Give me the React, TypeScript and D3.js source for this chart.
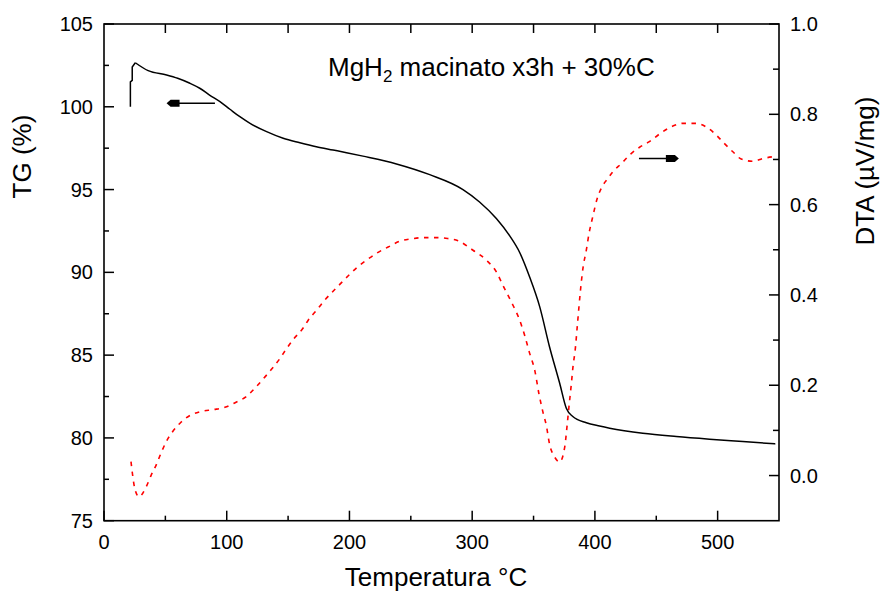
import React from "react";
import * as d3 from "d3";

const tgTemp = [21.5, 21.5, 23, 23, 25.5, 36, 51, 60, 70, 78, 86, 94.5, 102.6, 110.7, 119, 132.5, 146, 159.6, 173, 186.7, 197.6, 211, 238.3, 265.4, 292.5, 306, 319.7, 330.6, 338.7, 346.9, 355, 363, 371.3, 376.7, 382, 393, 403.8, 412, 439, 466.3, 493.4, 520.5, 547];
const tgValue = [100.0, 101.5, 101.6, 102.4, 102.66, 102.18, 101.92, 101.72, 101.42, 101.12, 100.71, 100.31, 99.85, 99.4, 99.0, 98.5, 98.1, 97.83, 97.59, 97.39, 97.23, 97.02, 96.55, 95.9, 95.0, 94.25, 93.25, 92.2, 91.2, 89.7, 87.93, 85.51, 83.3, 81.79, 81.29, 80.92, 80.72, 80.59, 80.28, 80.08, 79.92, 79.78, 79.64];

const dtaTemp = [22, 25.2, 28.5, 34.2, 38.3, 42.3, 46.2, 50.5, 55.6, 62.7, 70, 79.5, 89, 98.5, 108, 115.6, 123.8, 131, 137, 143.3, 148.7, 154.7, 161.8, 166.4, 173.2, 179, 185.9, 192.7, 200.3, 207, 214.4, 222.5, 231.5, 241, 250, 260, 270.9, 280, 288.5, 300.7, 311.6, 319.7, 325.1, 332, 338.7, 342.8, 346.9, 351, 354.4, 357.7, 360.4, 363, 367.2, 371.3, 375.4, 377.2, 378.8, 380.8, 382.1, 384, 385.8, 388.3, 390.3, 393, 395.2, 398.4, 401.7, 405.7, 410.6, 414.7, 422, 429.1, 436.4, 444, 454, 463.5, 471.7, 482.6, 490.7, 498.9, 505.6, 512.4, 519.2, 528.7, 536.8, 547.7];
const dtaValue = [0.031, -0.03, -0.047, -0.026, 0.0, 0.022, 0.048, 0.074, 0.096, 0.118, 0.133, 0.142, 0.146, 0.151, 0.163, 0.174, 0.196, 0.218, 0.237, 0.259, 0.281, 0.303, 0.325, 0.344, 0.366, 0.386, 0.406, 0.425, 0.446, 0.463, 0.478, 0.493, 0.506, 0.519, 0.524, 0.527, 0.527, 0.525, 0.52, 0.499, 0.477, 0.451, 0.421, 0.384, 0.344, 0.31, 0.27, 0.233, 0.181, 0.14, 0.111, 0.07, 0.041, 0.03, 0.063, 0.107, 0.151, 0.203, 0.24, 0.28, 0.336, 0.412, 0.46, 0.499, 0.536, 0.575, 0.612, 0.639, 0.658, 0.673, 0.692, 0.712, 0.727, 0.739, 0.759, 0.774, 0.78, 0.78, 0.772, 0.754, 0.735, 0.717, 0.701, 0.696, 0.702, 0.707];

const xMajorTicks = [0, 100, 200, 300, 400, 500];
const xMinorTicks = [50, 150, 250, 350, 450];
const xTopTicks = [50, 100, 150, 200, 250, 300, 350, 400, 450, 500];
const tgMajorTicks = [75, 80, 85, 90, 95, 100, 105];
const tgMinorTicks = [77.5, 82.5, 87.5, 92.5, 97.5, 102.5];
const dtaMajorTicks = [0.0, 0.2, 0.4, 0.6, 0.8, 1.0];
const dtaMinorTicks = [0.1, 0.3, 0.5, 0.7, 0.9];

const xLabel = "Temperatura °C";
const tgLabel = "TG (%)";
const dtaLabel = "DTA (µV/mg)";

// arrows in data units: [tStart, tEnd, value]
const tgArrow = [90.4, 51, 100.21];
const dtaArrow = [435.9, 468.4, 0.702];

const W = 881;
const H = 593;
const L = 104, R = 779, T = 24, B = 520.7;
const FONT = "'Liberation Sans', Arial, sans-serif";

export default function App() {
  const x = d3.scaleLinear().domain([0, 550]).range([L, R]);
  const yTG = d3.scaleLinear().domain([75, 105]).range([B, T]);
  const yDTA = d3.scaleLinear().domain([-0.1, 1.0]).range([B, T]);

  // initial step of TG (vertical jumps) drawn linearly, remainder smoothed
  const STEP_END = 4;
  const tgStartLine = d3
    .line<number>()
    .x((_, i) => x(tgTemp[i]))
    .y((v) => yTG(v))
    .curve(d3.curveLinear);
  const tgRestLine = d3
    .line<number>()
    .x((_, i) => x(tgTemp[i + STEP_END]))
    .y((v) => yTG(v))
    .curve(d3.curveMonotoneX);
  const dtaLine = d3
    .line<number>()
    .x((_, i) => x(dtaTemp[i]))
    .y((v) => yDTA(v))
    .curve(d3.curveMonotoneX);

  const arrowHead = (xTip: number, y: number, dir: number) => {
    const len = 13;
    const pts = [
      [xTip, y],
      [xTip - dir * 4, y - 3.5],
      [xTip - dir * len, y - 3.5],
      [xTip - dir * len, y + 3.5],
      [xTip - dir * 4, y + 3.5],
    ];
    return pts.map((p) => p.join(",")).join(" ");
  };

  const ax1 = x(tgArrow[0]), ax2 = x(tgArrow[1]), ay = yTG(tgArrow[2]);
  const bx1 = x(dtaArrow[0]), bx2 = x(dtaArrow[1]), by = yDTA(dtaArrow[2]);

  return (
    <svg
      width={W}
      height={H}
      style={{ position: "absolute", left: 0, top: 0, background: "#fff" }}
      fontFamily={FONT}
    >
      <rect x={0} y={0} width={W} height={H} fill="#fff" />
      {/* curves */}
      <path
        d={dtaLine(dtaValue) || ""}
        fill="none"
        stroke="#ff0000"
        strokeWidth={1.6}
        strokeDasharray="4.5,5.5"
      />
      <path
        d={tgStartLine(tgValue.slice(0, STEP_END + 1)) || ""}
        fill="none"
        stroke="#000"
        strokeWidth={1.5}
      />
      <path
        d={tgRestLine(tgValue.slice(STEP_END)) || ""}
        fill="none"
        stroke="#000"
        strokeWidth={1.5}
      />

      {/* arrows */}
      <line x1={ax1} y1={ay} x2={ax2 + 6} y2={ay} stroke="#000" strokeWidth={1.5} />
      <polygon points={arrowHead(ax2, ay, -1)} fill="#000" />
      <line x1={bx1} y1={by} x2={bx2 - 6} y2={by} stroke="#000" strokeWidth={1.5} />
      <polygon points={arrowHead(bx2, by, 1)} fill="#000" />

      {/* frame */}
      <rect x={L} y={T} width={R - L} height={B - T} fill="none" stroke="#000" strokeWidth={1.6} />

      {/* bottom ticks */}
      {xMajorTicks.map((t) => (
        <g key={"xb" + t}>
          <line x1={x(t)} x2={x(t)} y1={B} y2={B - 10} stroke="#000" strokeWidth={1.5} />
          <text x={x(t)} y={549} fontSize={20} textAnchor="middle" fill="#000">
            {t}
          </text>
        </g>
      ))}
      {xMinorTicks.map((t) => (
        <line key={"xbm" + t} x1={x(t)} x2={x(t)} y1={B} y2={B - 5} stroke="#000" strokeWidth={1.5} />
      ))}
      {/* top ticks */}
      {xTopTicks.map((t) => (
        <line key={"xt" + t} x1={x(t)} x2={x(t)} y1={T} y2={T + 9} stroke="#000" strokeWidth={1.5} />
      ))}
      {/* left ticks */}
      {tgMajorTicks.map((t) => (
        <g key={"yl" + t}>
          <line x1={L} x2={L + 10} y1={yTG(t)} y2={yTG(t)} stroke="#000" strokeWidth={1.5} />
          <text x={93} y={yTG(t) + 7} fontSize={20} textAnchor="end" fill="#000">
            {t}
          </text>
        </g>
      ))}
      {tgMinorTicks.map((t) => (
        <line key={"ylm" + t} x1={L} x2={L + 5} y1={yTG(t)} y2={yTG(t)} stroke="#000" strokeWidth={1.5} />
      ))}
      {/* right ticks */}
      {dtaMajorTicks.map((t) => (
        <g key={"yr" + t}>
          <line x1={R} x2={R - 10} y1={yDTA(t)} y2={yDTA(t)} stroke="#000" strokeWidth={1.5} />
          <text x={790} y={yDTA(t) + 7} fontSize={20} textAnchor="start" fill="#000">
            {t.toFixed(1)}
          </text>
        </g>
      ))}
      {dtaMinorTicks.map((t) => (
        <line key={"yrm" + t} x1={R} x2={R - 6} y1={yDTA(t)} y2={yDTA(t)} stroke="#000" strokeWidth={1.5} />
      ))}

      {/* axis titles */}
      <text x={436} y={586} fontSize={26} textAnchor="middle" fill="#000">
        {xLabel}
      </text>
      <text
        transform={`translate(31,156.5) rotate(-90)`}
        fontSize={26}
        textAnchor="middle"
        fill="#000"
      >
        {tgLabel}
      </text>
      <text
        transform={`translate(874,171) rotate(-90)`}
        fontSize={26}
        textAnchor="middle"
        fill="#000"
      >
        {dtaLabel}
      </text>

      {/* sample annotation */}
      <text x={328} y={76} fontSize={26} fill="#000">
        MgH
        <tspan fontSize={17} dy={6}>
          2
        </tspan>
        <tspan dy={-6}> macinato x3h + 30%C</tspan>
      </text>
    </svg>
  );
}
